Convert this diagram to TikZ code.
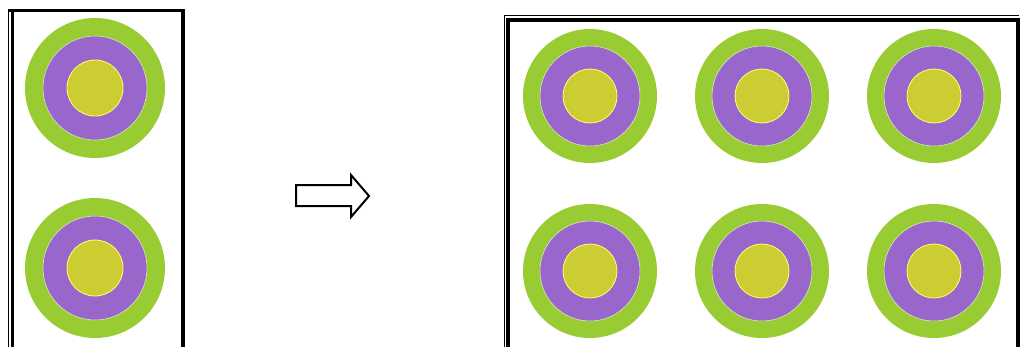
\documentclass[tikz,border=0pt]{standalone}
\usepackage{tikz}
\usetikzlibrary{calc}

\definecolor{ringgreen}{RGB}{153,204,51}
\definecolor{ringpurple}{RGB}{153,102,204}
\definecolor{ringyellow}{RGB}{204,204,51}

\begin{document}
\begin{tikzpicture}[
          x=0.02cm, y=-0.02cm,
          outer/.style={circle, fill=ringgreen, inner sep=0pt, minimum size=#1},
          mid/.style={circle, fill=ringpurple, draw=ringgreen!30!white,
                      line width=0.3pt, inner sep=0pt, minimum size=#1},
          core/.style={circle, fill=ringyellow, draw=yellow!55!white,
                       line width=0.5pt, inner sep=0pt, minimum size=#1},
          frame/.style={line width=0.07cm, black},
          hair/.style={line width=0.03cm, black},
          movearrow/.style={draw=black, line width=0.04cm, fill=white, line join=miter}
        ]
          \useasboundingbox (0,0) rectangle (1020,346);
          \clip (0,0) rectangle (1020,346);
          % left box: two targets
          \draw[hair] (8.5,9) -- (8.5,360);
          \draw[frame] (8,10.5) -- (183,10.5) -- (183,360);
          \draw[frame] (12.5,10.5) -- (12.5,360);
          \foreach \n/\cx/\cy in {a/95/88, b/95/268} {
            \node[outer=2.8cm]  (g\n) at (\cx,\cy) {};
            \node[mid=2.08cm]   (p\n) at (g\n.center) {};
            \node[core=1.12cm]  (y\n) at (g\n.center) {};
          }
          % arrow between the boxes
          \draw[movearrow] (296,185) -- (351,185) -- (351,175) -- (369,196)
            -- (351,217) -- (351,206) -- (296,206) -- cycle;
          % right box: six targets
          \draw[hair] (504.5,360) -- (504.5,15.5) -- (1019,15.5);
          \draw[frame] (508,360) -- (508,20) -- (1018,20) -- (1018,360);
          \foreach \n/\cx/\cy in {c/590/96, d/762/96, e/934/96,
                                  f/590/271, g/762/271, h/934/271} {
            \node[outer=2.68cm] (g\n) at (\cx,\cy) {};
            \node[mid=2.0cm]    (p\n) at (g\n.center) {};
            \node[core=1.08cm]  (y\n) at (g\n.center) {};
          }
        \end{tikzpicture}
\end{document}
